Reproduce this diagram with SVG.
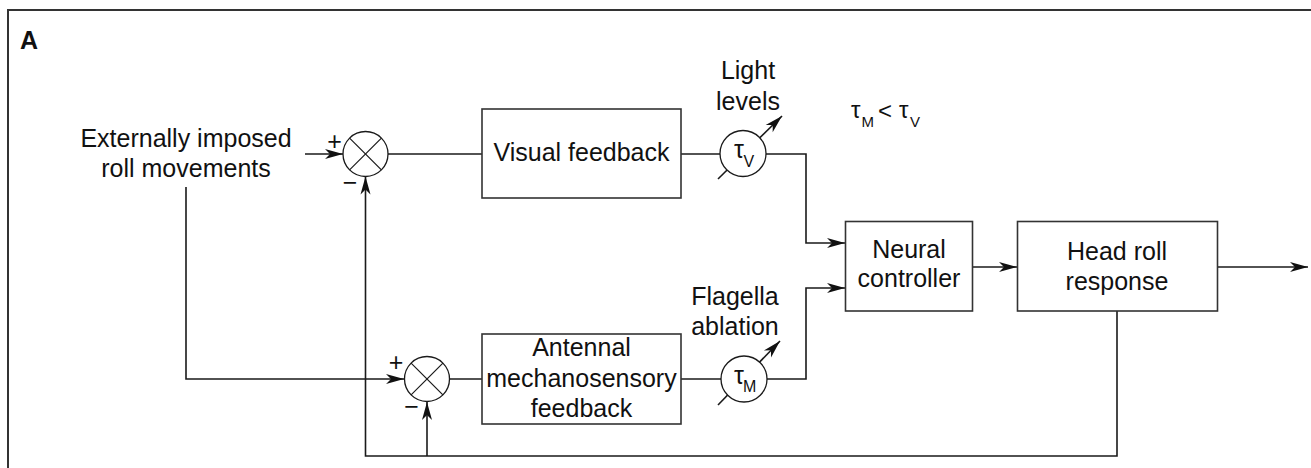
<svg xmlns="http://www.w3.org/2000/svg" width="1311" height="468" viewBox="0 0 1311 468">
<style>
.ln{fill:none;stroke:#1a1a1a;stroke-width:1.6}
.bx{fill:#fff;stroke:#333;stroke-width:1.6}
.ci{fill:#fff;stroke:#1a1a1a;stroke-width:1.3}
.x{stroke:#1a1a1a;stroke-width:1.2}
.t{font-family:"Liberation Sans",Arial,sans-serif;font-size:25px;fill:#111;text-anchor:middle}
.s{font-family:"Liberation Sans",Arial,sans-serif;fill:#111}
.pm{font-family:"Liberation Sans",Arial,sans-serif;font-size:25px;fill:#111;text-anchor:middle}
</style>
<defs>
<marker id="ah" markerUnits="userSpaceOnUse" markerWidth="18" markerHeight="10" refX="18" refY="5" orient="auto" overflow="visible">
<path d="M0,0 L18,5 L0,10 L5,5 z" fill="#111"/>
</marker>
</defs>
<rect x="8" y="10" width="1320" height="480" fill="none" stroke="#333" stroke-width="2"/>
<text x="20" y="49" class="s" style="font-size:25px;font-weight:bold">A</text>

<g id="connectors">
<path class="ln" d="M305,154 H343" marker-end="url(#ah)"/>
<path class="ln" d="M186,187 V379 H404" marker-end="url(#ah)"/>
<path class="ln" d="M388,154 H482"/>
<path class="ln" d="M681,154 H720"/>
<path class="ln" d="M766,154 H806 V243 H845" marker-end="url(#ah)"/>
<path class="ln" d="M449,379 H482"/>
<path class="ln" d="M681,379 H721"/>
<path class="ln" d="M767,379 H806 V288 H845" marker-end="url(#ah)"/>
<path class="ln" d="M973,267 H1017" marker-end="url(#ah)"/>
<path class="ln" d="M1217,267 H1308" marker-end="url(#ah)"/>
<path class="ln" d="M1117,311 V456 H365.5 V176.5" marker-end="url(#ah)"/>
<path class="ln" d="M427,456 V402" marker-end="url(#ah)"/>
<path class="ln" d="M718,179 L782,116" marker-end="url(#ah)"/>
<path class="ln" d="M718,405 L780,341" marker-end="url(#ah)"/>
</g>

<g id="input-label">
<text class="t" x="186" y="147">Externally imposed</text>
<text class="t" x="186" y="177">roll movements</text>
</g>

<g id="sum1">
<circle class="ci" cx="365.5" cy="154" r="22.5"/>
<line class="x" x1="349.6" y1="138.1" x2="381.4" y2="169.9"/>
<line class="x" x1="381.4" y1="138.1" x2="349.6" y2="169.9"/>
<text class="pm" x="334.5" y="150">+</text>
<text class="pm" x="350" y="191">−</text>
</g>

<g id="sum2">
<circle class="ci" cx="427" cy="379" r="22.5"/>
<line class="x" x1="411.1" y1="363.1" x2="442.9" y2="394.9"/>
<line class="x" x1="442.9" y1="363.1" x2="411.1" y2="394.9"/>
<text class="pm" x="396" y="371">+</text>
<text class="pm" x="411.5" y="415">−</text>
</g>

<g id="visual">
<rect class="bx" x="482" y="109" width="199" height="89"/>
<text class="t" x="581.5" y="161">Visual feedback</text>
</g>

<g id="antennal">
<rect class="bx" x="482" y="334" width="199" height="90"/>
<text class="t" x="581.5" y="356">Antennal</text>
<text class="t" x="581.5" y="387">mechanosensory</text>
<text class="t" x="581.5" y="417">feedback</text>
</g>

<g id="delay-v">
<circle class="ci" cx="743" cy="153.5" r="23"/>
<text class="s" x="734" y="158" style="font-size:25px">τ</text>
<text class="s" x="743.5" y="166.5" style="font-size:16px">V</text>
<text class="t" x="748" y="79">Light</text>
<text class="t" x="748" y="110">levels</text>
</g>

<g id="delay-m">
<circle class="ci" cx="744" cy="379" r="23"/>
<text class="s" x="734" y="383.5" style="font-size:25px">τ</text>
<text class="s" x="743" y="392" style="font-size:16px">M</text>
<text class="t" x="735" y="305">Flagella</text>
<text class="t" x="735" y="335">ablation</text>
</g>

<g id="relation">
<text class="s" x="851" y="118" style="font-size:24px">τ</text>
<text class="s" x="861.5" y="127" style="font-size:15px">M</text>
<text class="s" x="878" y="119" style="font-size:24px">&lt;</text>
<text class="s" x="899" y="118" style="font-size:24px">τ</text>
<text class="s" x="910" y="127" style="font-size:15px">V</text>
</g>

<g id="neural">
<rect class="bx" x="845.5" y="221.5" width="127" height="89.5"/>
<text class="t" x="909" y="258">Neural</text>
<text class="t" x="909" y="287">controller</text>
</g>

<g id="head">
<rect class="bx" x="1017.5" y="221.5" width="200" height="89.5"/>
<text class="t" x="1117" y="260">Head roll</text>
<text class="t" x="1117" y="290">response</text>
</g>
</svg>
